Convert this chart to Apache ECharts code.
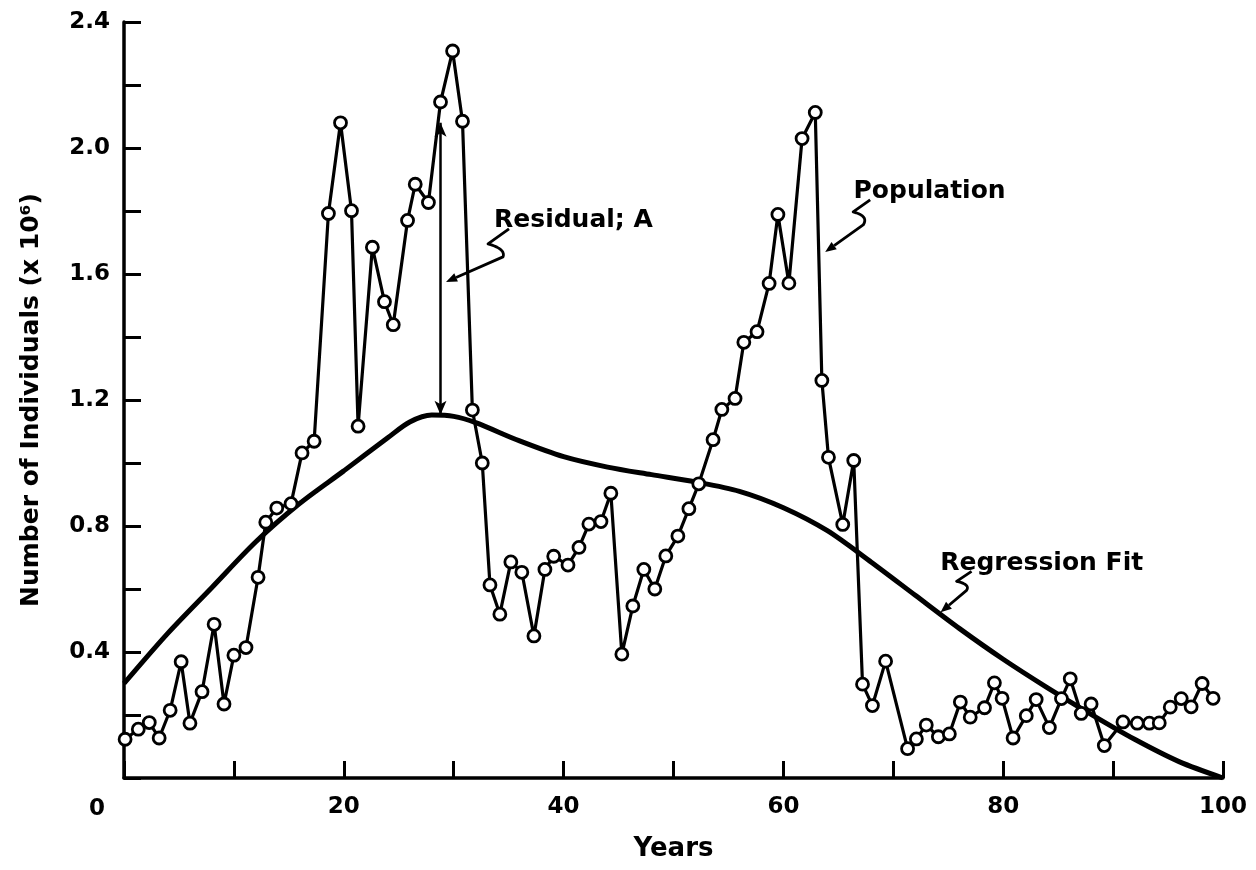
<!DOCTYPE html>
<html>
<head>
<meta charset="utf-8">
<script src="https://cdn.jsdelivr.net/npm/echarts@6/dist/echarts.min.js"></script>
<style>
html,body{margin:0;padding:0;background:#fff;}
#chart{width:1256px;height:870px;}
</style>
</head>
<body>
<div id="chart"></div>
<script>
// ---- Data ----
const popYears = [0.1,1.3,2.3,3.2,4.2,5.2,6.0,7.1,8.2,9.1,10.0,11.1,12.2,12.9,13.9,15.2,16.2,17.3,18.6,19.7,20.7,21.3,22.6,23.7,24.5,25.8,26.5,27.7,28.8,29.9,30.8,31.7,32.6,33.3,34.2,35.2,36.2,37.3,38.3,39.1,40.4,41.4,42.3,43.4,44.3,45.3,46.3,47.3,48.3,49.3,50.4,51.4,52.3,53.6,54.4,55.6,56.4,57.6,58.7,59.5,60.5,61.7,62.9,63.5,64.1,65.4,66.4,67.2,68.1,69.3,71.3,72.1,73.0,74.1,75.1,76.1,77.0,78.3,79.2,79.9,80.9,82.1,83.0,84.2,85.3,86.1,87.1,88.0,89.2,90.9,92.2,93.3,94.2,95.2,96.2,97.1,98.1,99.1];
const popValues = [0.123,0.155,0.176,0.127,0.215,0.369,0.174,0.274,0.488,0.235,0.390,0.414,0.637,0.812,0.857,0.871,1.032,1.069,1.792,2.080,1.801,1.117,1.685,1.512,1.439,1.770,1.885,1.827,2.146,2.308,2.085,1.168,1.000,0.613,0.520,0.686,0.653,0.451,0.662,0.704,0.676,0.732,0.806,0.814,0.904,0.393,0.546,0.662,0.600,0.705,0.768,0.855,0.934,1.074,1.170,1.205,1.383,1.417,1.570,1.789,1.571,2.030,2.113,1.262,1.018,0.805,1.008,0.298,0.230,0.371,0.093,0.124,0.168,0.131,0.140,0.241,0.193,0.223,0.302,0.253,0.127,0.198,0.249,0.160,0.252,0.315,0.205,0.235,0.103,0.178,0.174,0.174,0.175,0.225,0.252,0.226,0.300,0.253];

const fitYears  = [0,4,8,12,16,20,24,26,28,30,32,36,40,44,48,52,56,60,64,68,72,76,80,84,88,92,96,100];
const fitValues = [0.30,0.46,0.605,0.75,0.872,0.975,1.08,1.13,1.152,1.148,1.128,1.07,1.02,0.987,0.963,0.94,0.91,0.858,0.785,0.685,0.58,0.475,0.377,0.287,0.202,0.122,0.052,0.0];

const residualYear = 28.8, residualFrom = 1.153, residualTo = 2.08;

const xTickLabels = [20,40,60,80,100];
const yTickLabels = [0.4,0.8,1.2,1.6,2.0,2.4];

// annotation texts and arrow tips (data coords)
const annotations = [
  {text:'Residual; A',     textAt:[40.9,1.77], tip:[29.3,1.575], path:[[63,-53],[42,-38],[60,-33],[57,-25]]},
  {text:'Population',      textAt:[73.3,1.862],tip:[63.8,1.67],  path:[[45,-52],[28,-40],[44,-36],[38,-27]]},
  {text:'Regression Fit',  textAt:[83.5,0.68], tip:[74.3,0.526], path:[[31,-41],[16,-31],[30,-28],[26,-22]]}
];

const FONT = 'DejaVu Sans';
const chart = echarts.init(document.getElementById('chart'));

const option = {
  animation:false,
  backgroundColor:'#fff',
  grid:{left:124,right:33,top:22,bottom:92},
  xAxis:{
    type:'value',min:0,max:100,interval:10,
    name:'Years',nameLocation:'middle',nameGap:58,
    nameTextStyle:{fontFamily:FONT,fontSize:26,fontWeight:'bold',color:'#000'},
    axisLine:{show:true,lineStyle:{color:'#000',width:3.5}},
    axisTick:{show:true,inside:true,length:17,lineStyle:{color:'#000',width:3}},
    axisLabel:{
      margin:18,fontFamily:FONT,fontSize:23,fontWeight:'bold',color:'#000',
      formatter:function(v){return xTickLabels.indexOf(v)>=0?String(v):'';}
    },
    splitLine:{show:false}
  },
  yAxis:{
    type:'value',min:0,max:2.4,interval:0.2,
    name:'Number of Individuals (x 10\u2076)',nameLocation:'middle',nameGap:80,nameRotate:90,
    nameTextStyle:{fontFamily:FONT,fontSize:25,fontWeight:'bold',color:'#000'},
    axisLine:{show:true,lineStyle:{color:'#000',width:3.5}},
    axisTick:{show:true,inside:true,length:17,lineStyle:{color:'#000',width:3}},
    axisLabel:{
      margin:14,fontFamily:FONT,fontSize:23,fontWeight:'bold',color:'#000',
      formatter:function(v){
        for(const t of yTickLabels){ if(Math.abs(t-v)<1e-6) return t.toFixed(1); }
        return '';
      }
    },
    splitLine:{show:false}
  },
  series:[
    {
      name:'Regression Fit',type:'line',smooth:0.3,symbol:'none',
      data:fitYears.map((x,i)=>[x,fitValues[i]]),
      lineStyle:{color:'#000',width:5},z:2,
      markLine:{
        silent:true,symbol:['arrow','arrow'],symbolSize:[9,14],
        label:{show:false},
        lineStyle:{color:'#000',width:2.5,type:'solid'},
        data:[[{coord:[residualYear,residualFrom]},{coord:[residualYear,residualTo]}]]
      }
    },
    {
      name:'Population',type:'line',symbol:'circle',symbolSize:12,
      data:popYears.map((x,i)=>[x,popValues[i]]),
      lineStyle:{color:'#000',width:3.2},
      itemStyle:{color:'#fff',borderColor:'#000',borderWidth:2.8},
      z:3
    }
  ]
};
chart.setOption(option);

function px(p){ return chart.convertToPixel({gridIndex:0},p); }
const graphics = [];
// origin "0" label
const o = px([0,0]);
graphics.push({type:'text',x:o[0]-27,y:o[1]+31,style:{text:'0',fontFamily:FONT,fontSize:23,fontWeight:'bold',fill:'#000',align:'center',verticalAlign:'middle'}});
annotations.forEach(a=>{
  const t = px(a.textAt);
  graphics.push({type:'text',x:t[0],y:t[1],style:{text:a.text,fontFamily:FONT,fontSize:25,fontWeight:'bold',fill:'#000',align:'center',verticalAlign:'middle'}});
  const tip = px(a.tip);
  const P = a.path.map(d=>[tip[0]+d[0],tip[1]+d[1]]);
  const pts = [P[0],P[1]];
  for(let k=1;k<=10;k++){
    const s=k/10, u=1-s;
    pts.push([u*u*P[1][0]+2*u*s*P[2][0]+s*s*P[3][0], u*u*P[1][1]+2*u*s*P[2][1]+s*s*P[3][1]]);
  }
  const dx = tip[0]-P[3][0], dy = tip[1]-P[3][1];
  const len = Math.sqrt(dx*dx+dy*dy), ux=dx/len, uy=dy/len;
  const L=11, W=4.5;
  const bx = tip[0]-ux*L, by = tip[1]-uy*L;
  pts.push([bx,by]);
  graphics.push({type:'polyline',shape:{points:pts},style:{fill:null,stroke:'#000',lineWidth:2.8,lineJoin:'round'}});
  graphics.push({type:'polygon',shape:{points:[[tip[0],tip[1]],[bx-uy*W,by+ux*W],[bx+uy*W,by-ux*W]]},style:{fill:'#000'}});
});
chart.setOption({graphic:graphics});
</script>
</body>
</html>
